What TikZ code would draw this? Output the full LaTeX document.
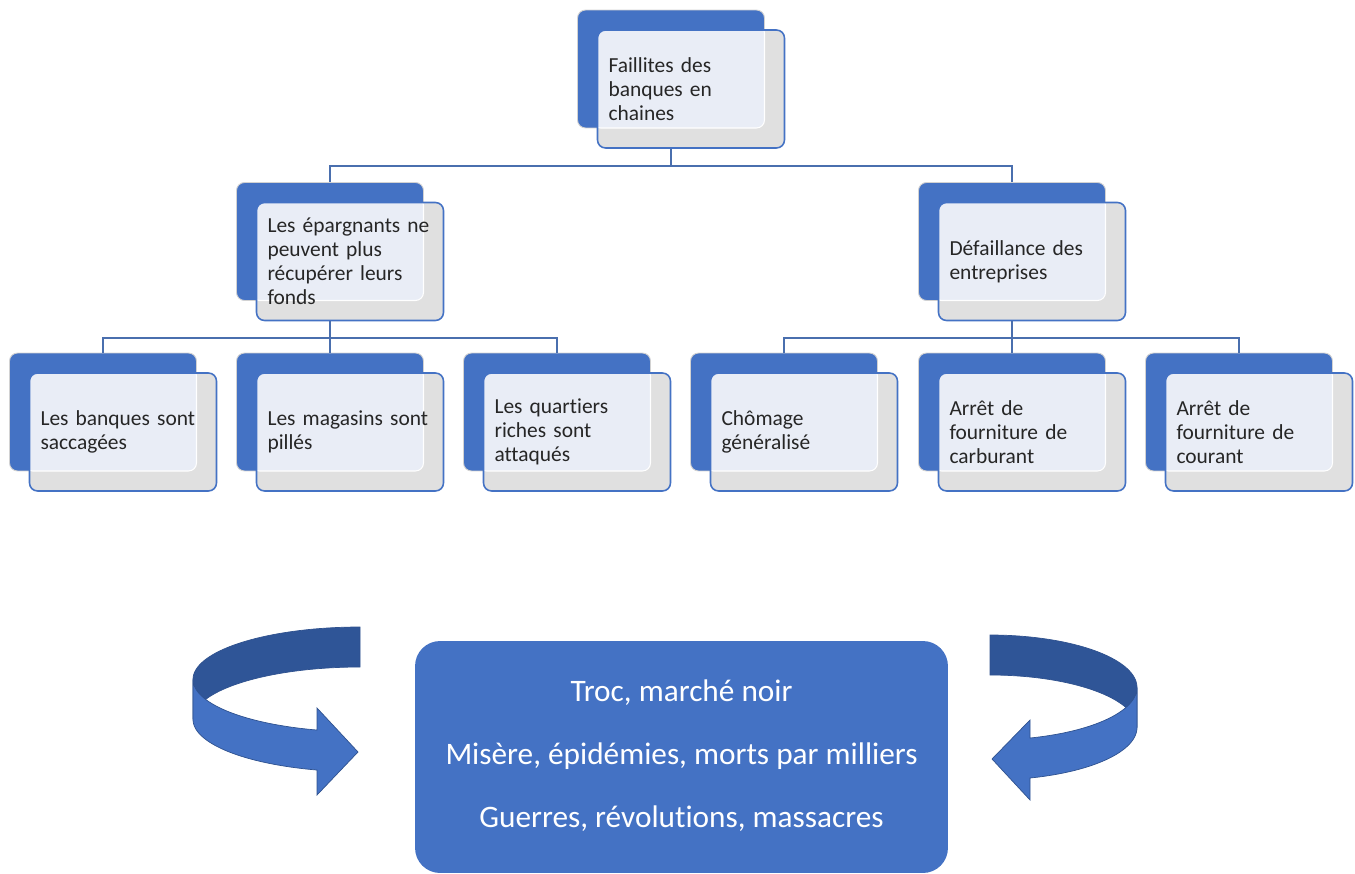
\documentclass[tikz,border=0pt]{standalone}
\usepackage{fontspec}
\setmainfont{Carlito}[Ligatures=NoCommon]
\definecolor{bleu}{HTML}{4472C4}
\definecolor{bleufonce}{HTML}{2F5597}
\definecolor{contour}{HTML}{2F528F}
\definecolor{couleurlien}{HTML}{4A6FAE}
\definecolor{gris}{HTML}{E0E0E0}
\definecolor{lavande}{HTML}{E9EDF6}
\definecolor{texte}{HTML}{262626}

\begin{document}
\begin{tikzpicture}[x=0.02cm, y=-0.02cm]
\useasboundingbox (0,0) rectangle (1355,874);
%------------------------------------------------------------------------------------------------
% Box styles

    \tikzset{arriere/.style={rectangle, rounded corners=0.16cm,
            fill=bleu, draw=gray!35, line width=0.5pt,
            minimum width=3.74cm, minimum height=2.36cm, inner sep=0pt},
        avant/.style={rectangle, rounded corners=0.16cm,
            fill=gris, draw=bleu, line width=0.9pt,
            minimum width=3.74cm, minimum height=2.36cm,
            text width=3.3cm, inner xsep=0.22cm, inner ysep=0pt, align=left,
            text=texte, font=\fontsize{12.2}{13.7}\selectfont,
            path picture={\filldraw[lavande, draw=white, line width=0.6pt, rounded corners=0.16cm]
                ([shift={(-5,-5)}]path picture bounding box.north west) rectangle
                ([shift={(-20,-20)}]path picture bounding box.south east);}},
        lien/.style={draw=couleurlien, line width=1.1pt}
    }
    % all boxes
    \foreach \nom/\cx/\cy/\texte in {
            top/691/89/{Faillites des\\banques en\\chaines},
            gauche/350/261.5/{Les épargnants ne\\peuvent plus\\récupérer leurs\\fonds},
            droite/1032/261.5/{Défaillance des\\entreprises},
            banques/123/432/{Les banques sont\\saccagées},
            magasins/350/432/{Les magasins sont\\pillés},
            quartiers/577/432/{Les quartiers\\riches sont\\attaqués},
            chomage/804/432/{Chômage\\généralisé},
            carburant/1032/432/{Arrêt de\\fourniture de\\carburant},
            courant/1259/432/{Arrêt de\\fourniture de\\courant}} {
        \node [arriere] (\nom-b) at (\cx-20,\cy-20) {};
        \node [avant] (\nom) at (\cx,\cy) {\texte};
    }
%------------------------------------------------------------------------------------------------
% links
\draw[lien] (top-b.south |- top.south) -- ++(0,17) coordinate(bus0) -| (gauche-b.north);
\draw[lien] (bus0) -| (droite-b.north);
\draw[lien] (gauche-b.south |- gauche.south) -- ++(0,17) coordinate(bus1);
\foreach \cible in {banques, magasins, quartiers}
    \draw[lien] (bus1) -| (\cible-b.north);
\draw[lien] (droite-b.south |- droite.south) -- ++(0,17) coordinate(bus2);
\foreach \cible in {chomage, carburant, courant}
    \draw[lien] (bus2) -| (\cible-b.north);

% consequences
\node[fill=bleu, rounded corners=0.5cm, minimum width=10.66cm, minimum height=4.64cm,
    text=white, align=center, font=\fontsize{17.8}{35.9}\selectfont] (crise) at (681.5,757)
    {Troc, marché noir\\Misère, épidémies, morts par milliers\\Guerres, révolutions, massacres\rule[-3.4pt]{0pt}{0pt}};

% left turning arrow
\filldraw[fill=bleufonce, draw=contour, line width=0.4pt]
    plot[domain=90:180, samples=40] ({360+167*cos(\x)},{679.4-52.4*sin(\x)})
    -- plot[domain=180:90, samples=40] ({360+167*cos(\x)},{719.4-52.4*sin(\x)}) -- cycle;
\filldraw[fill=bleu, draw=contour, line width=0.4pt]
    plot[domain=180:255.1, samples=40] ({360+167*cos(\x)},{679.4-52.4*sin(\x)})
    -- (317,708) -- (358,752) -- (317,795)
    -- plot[domain=255.1:180, samples=40] ({360+167*cos(\x)},{719.4-52.4*sin(\x)}) -- cycle;

% right turning arrow
\filldraw[fill=bleufonce, draw=contour, line width=0.4pt]
    plot[domain=90:0, samples=40] ({990+147*cos(\x)},{687.5-52.5*sin(\x)})
    -- plot[domain=0:90, samples=40] ({990+147*cos(\x)},{727.5-52.5*sin(\x)}) -- cycle;
\filldraw[fill=bleu, draw=contour, line width=0.4pt]
    plot[domain=0:-74.2, samples=40] ({990+147*cos(\x)},{687.5-52.5*sin(\x)})
    -- (1030,720) -- (992,759) -- (1030,800)
    -- plot[domain=-74.2:0, samples=40] ({990+147*cos(\x)},{727.5-52.5*sin(\x)}) -- cycle;

\end{tikzpicture}
\end{document}
